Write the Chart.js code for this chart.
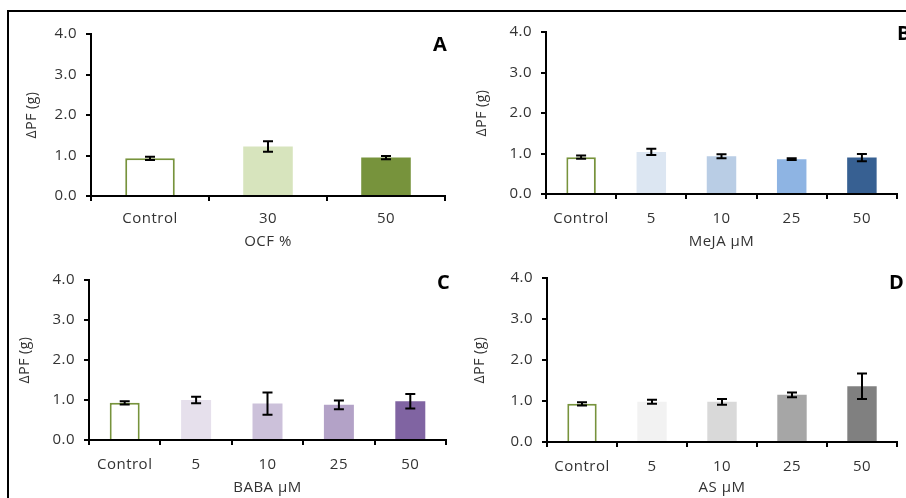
<!DOCTYPE html>
<html>
<head>
<meta charset="utf-8">
<script src="https://cdn.jsdelivr.net/npm/chart.js@4.4.1/dist/chart.umd.min.js"></script>
<style>
  html, body { margin: 0; padding: 0; background: #fff; }
  body { width: 906px; height: 498px; position: relative; overflow: hidden; font-family: "Open Sans", sans-serif; }
  .frame { position: absolute; left: 7px; top: 10px; width: 960px; height: 560px; border: 2px solid #000; box-sizing: border-box; }
  .wrap { position: absolute; width: 453px; height: 249px; }
  .wrap canvas { display: block; }
  .letter { position: absolute; font: bold 20px "Open Sans", sans-serif; line-height: 20px; color: #000; }
</style>
</head>
<body>
<div class="frame"></div>
<div class="wrap" style="left:0;top:0"><canvas id="cA" width="453" height="249"></canvas></div>
<div class="wrap" style="left:453px;top:0"><canvas id="cB" width="453" height="249"></canvas></div>
<div class="wrap" style="left:0;top:249px"><canvas id="cC" width="453" height="249"></canvas></div>
<div class="wrap" style="left:453px;top:249px"><canvas id="cD" width="453" height="249"></canvas></div>
<div class="letter" style="left:433px;top:34px">A</div>
<div class="letter" style="left:897px;top:23px">B</div>
<div class="letter" style="left:437px;top:272px">C</div>
<div class="letter" style="left:889px;top:272px">D</div>
<script>
// ---- data ----
const catsOCF = ['Control', '30', '50'];
const meansOCF = [0.93, 1.22, 0.95];
const errOCF = [0.04, 0.13, 0.04];

const catsMeJA = ['Control', '5', '10', '25', '50'];
const meansMeJA = [0.91, 1.04, 0.93, 0.86, 0.90];
const errMeJA = [0.04, 0.08, 0.05, 0.02, 0.09];

const catsBABA = ['Control', '5', '10', '25', '50'];
const meansBABA = [0.93, 1.00, 0.91, 0.88, 0.97];
const errBABA = [0.04, 0.08, 0.28, 0.11, 0.18];

const catsAS = ['Control', '5', '10', '25', '50'];
const meansAS = [0.93, 0.98, 0.98, 1.15, 1.36];
const errAS = [0.04, 0.05, 0.07, 0.06, 0.31];

const yTicks = [0, 1, 2, 3, 4];
const yTitle = 'ΔPF (g)';

// ---- styles ----
const CTRL_BORDER = '#77933C';
const colorsOCF = ['#FFFFFF', '#D7E4BD', '#77933C'];
const colorsMeJA = ['#FFFFFF', '#DCE6F2', '#B9CDE5', '#8EB4E3', '#376092'];
const colorsBABA = ['#FFFFFF', '#E6E0EC', '#CCC1DA', '#B3A2C7', '#8064A2'];
const colorsAS = ['#FFFFFF', '#F2F2F2', '#D9D9D9', '#A6A6A6', '#808080'];
const TXT = '#333333';

const errorBarPlugin = {
  id: 'errorBars',
  afterDatasetsDraw(chart, args, opts) {
    const ctx = chart.ctx;
    const meta = chart.getDatasetMeta(0);
    const ys = chart.scales.y;
    const errs = opts.errors || [];
    const vals = chart.data.datasets[0].data;
    ctx.save();
    ctx.strokeStyle = '#000';
    ctx.lineWidth = 2;
    meta.data.forEach((bar, i) => {
      const e = errs[i];
      if (e == null) return;
      const x = bar.x;
      const yt = ys.getPixelForValue(vals[i] + e);
      const yb = ys.getPixelForValue(vals[i] - e);
      const cw = 5;
      ctx.beginPath();
      ctx.moveTo(x, yt); ctx.lineTo(x, yb);
      ctx.moveTo(x - cw, yt); ctx.lineTo(x + cw, yt);
      ctx.moveTo(x - cw, yb); ctx.lineTo(x + cw, yb);
      ctx.stroke();
    });
    ctx.restore();
  }
};

const spacingPlugin = {
  id: 'spacing',
  beforeDraw(chart) { chart.ctx.letterSpacing = '0.5px'; }
};

function makeChart(id, cats, means, errs, colors, xTitle, L) {
  const borderColors = colors.map((c, i) => i === 0 ? CTRL_BORDER : c);
  const borderWidths = colors.map((c, i) => i === 0 ? 2 : 0);
  return new Chart(document.getElementById(id), {
    type: 'bar',
    data: {
      labels: cats,
      datasets: [{
        data: means,
        backgroundColor: colors,
        borderColor: borderColors,
        borderWidth: borderWidths,
        categoryPercentage: 1,
        barPercentage: 0.42
      }]
    },
    plugins: [errorBarPlugin, spacingPlugin],
    options: {
      responsive: false,
      animation: false,
      events: [],
      layout: { padding: { left: 0, top: L.top, right: L.right, bottom: 0 } },
      plugins: {
        legend: { display: false },
        tooltip: { enabled: false },
        errorBars: { errors: errs }
      },
      scales: {
        x: {
          afterFit(s) { s.height = L.xH; },
          grid: { drawOnChartArea: false, drawTicks: true, tickLength: 5, lineWidth: 2, tickColor: '#000', offset: true },
          border: { color: '#000', width: 2 },
          ticks: { color: TXT, font: { family: 'Open Sans', size: 15 }, padding: L.xPad, maxRotation: 0 },
          title: { display: true, text: xTitle, color: TXT, font: { family: 'Open Sans', size: 15, lineHeight: 1 }, padding: { top: 0, bottom: L.xtPad } }
        },
        y: {
          min: 0, max: 4,
          afterFit(s) { s.width = L.yW; },
          afterBuildTicks(s) { s.ticks = yTicks.map(v => ({ value: v })); },
          grid: { drawOnChartArea: false, drawTicks: true, tickLength: 5, lineWidth: 2, tickColor: '#000' },
          border: { color: '#000', width: 2 },
          ticks: { color: TXT, font: { family: 'Open Sans', size: 15 }, padding: 9, callback: v => Number(v).toFixed(1) },
          title: { display: true, text: yTitle, color: TXT, font: { family: 'Open Sans', size: 14, lineHeight: 1 }, padding: { top: L.ytPad, bottom: 0 } }
        }
      }
    }
  });
}

makeChart('cA', catsOCF, meansOCF, errOCF, colorsOCF, 'OCF %', { top: 34, right: 8, xH: 53, yW: 91, xPad: 9, xtPad: 0, ytPad: 25 });
makeChart('cB', catsMeJA, meansMeJA, errMeJA, colorsMeJA, 'MeJA µM', { top: 32, right: 9, xH: 55, yW: 93, xPad: 11, xtPad: 0, ytPad: 22 });
makeChart('cC', catsBABA, meansBABA, errBABA, colorsBABA, 'BABA µM', { top: 31, right: 7, xH: 58, yW: 89, xPad: 11, xtPad: 3, ytPad: 18 });
makeChart('cD', catsAS, meansAS, errAS, colorsAS, 'AS µM', { top: 29, right: 9, xH: 56, yW: 94, xPad: 11, xtPad: 3, ytPad: 20 });
</script>
</body>
</html>
